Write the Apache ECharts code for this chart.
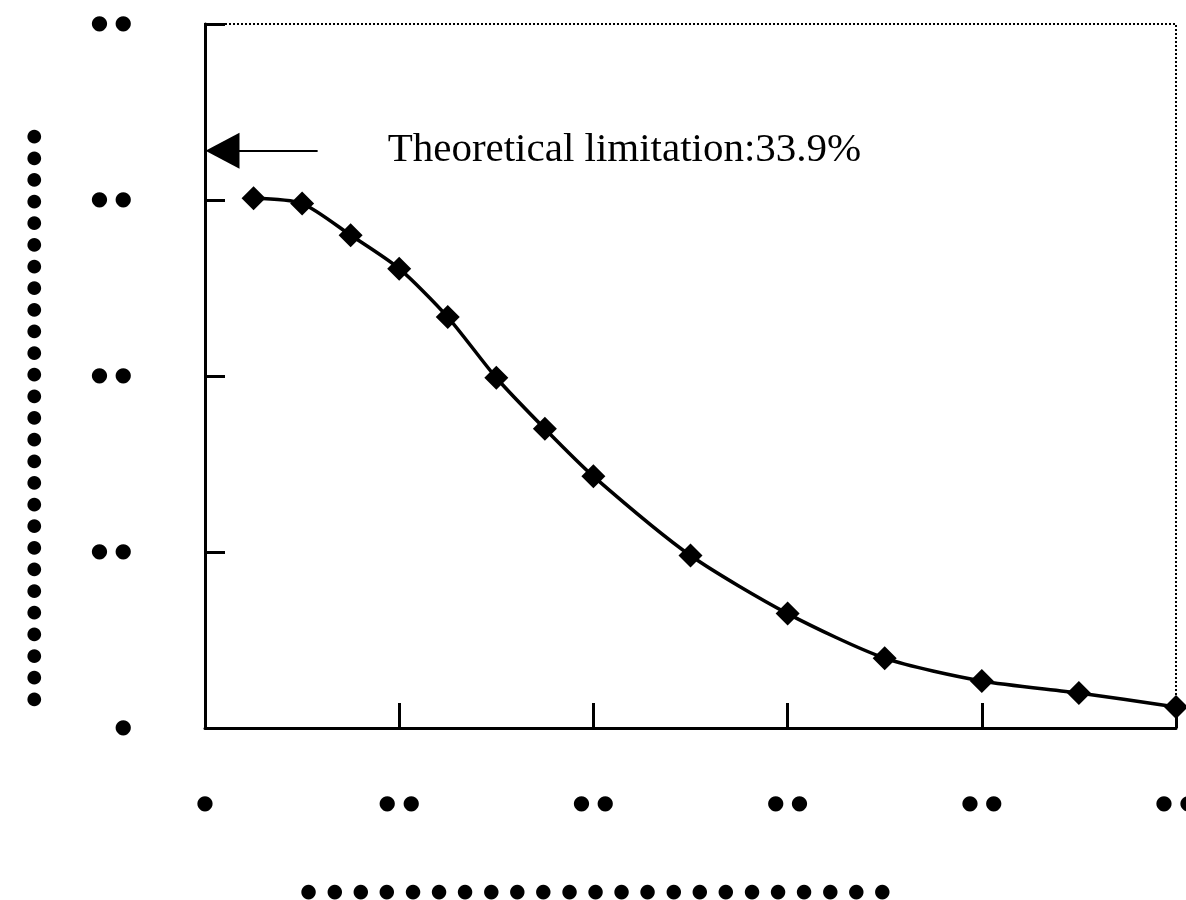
<!DOCTYPE html>
<html>
<head>
<meta charset="utf-8">
<script src="https://cdn.jsdelivr.net/npm/echarts@6/dist/echarts.min.js"></script>
<style>
  html, body { margin: 0; padding: 0; background: #fff; }
  #chart { width: 1186px; height: 900px; }
</style>
</head>
<body>
<div id="chart"></div>
<script>
// data (labels in the original print came out as dots)
const xValues = [2.5, 5, 7.5, 10, 12.5, 15, 17.5, 20, 25, 30, 35, 40, 45, 50];
const yValues = [30.1, 29.8, 28.0, 26.1, 23.35, 19.9, 17.0, 14.3, 9.8, 6.5, 3.97, 2.67, 1.99, 1.19];
const xTickValues = [0, 10, 20, 30, 40, 50];
const xTickLabels = ['●', '● ●', '● ●', '● ●', '● ●', '● ●'];
const yTickValues = [0, 10, 20, 30, 40];
const yTickLabels = ['●', '● ●', '● ●', '● ●', '● ●'];
const xAxisName = Array(23).fill('●').join('\u2002');
const yAxisName = Array(27).fill('●').join('\u2004');
const limitValue = 32.8;
const limitText = 'Theoretical limitation:33.9%';

const chart = echarts.init(document.getElementById('chart'));

const dotFont = {
  fontFamily: 'DejaVu Sans',
  fontSize: 20,
  color: '#000'
};

const option = {
  animation: false,
  backgroundColor: '#fff',
  grid: {
    left: 205,
    right: 10,
    top: 24,
    bottom: 172,
    outerBoundsMode: 'none',
    containLabel: false,
    show: true,
    borderColor: '#000',
    borderWidth: 2,
    borderType: 'dotted'
  },
  xAxis: {
    type: 'value',
    min: 0,
    max: 50,
    interval: 10,
    name: xAxisName,
    nameLocation: 'middle',
    nameGap: 155,
    nameTextStyle: {
      fontFamily: 'DejaVu Sans',
      fontSize: 19,
      color: '#000',
      padding: [0, 190, 0, 0]
    },
    axisLine: { lineStyle: { color: '#000', width: 3 } },
    axisTick: { inside: true, length: 25, lineStyle: { color: '#000', width: 3 } },
    splitLine: { show: false },
    axisLabel: Object.assign({
      margin: 66,
      formatter: function (v) {
        const i = xTickValues.indexOf(v);
        return i >= 0 ? xTickLabels[i] : '';
      }
    }, dotFont)
  },
  yAxis: {
    type: 'value',
    min: 0,
    max: 40,
    interval: 10,
    name: yAxisName,
    nameLocation: 'middle',
    nameRotate: 90,
    nameGap: 162,
    nameTextStyle: {
      fontFamily: 'DejaVu Sans',
      fontSize: 18,
      color: '#000',
      padding: [0, 84, 0, 0]
    },
    axisLine: { lineStyle: { color: '#000', width: 3 } },
    axisTick: { inside: true, length: 20, lineStyle: { color: '#000', width: 3 } },
    splitLine: { show: false },
    axisLabel: Object.assign({
      margin: 73,
      formatter: function (v) {
        const i = yTickValues.indexOf(v);
        return i >= 0 ? yTickLabels[i] : '';
      }
    }, dotFont)
  },
  series: [
    {
      type: 'line',
      data: xValues.map((x, i) => [x, yValues[i]]),
      smooth: 0.25,
      symbol: 'diamond',
      symbolSize: 24,
      itemStyle: { color: '#000' },
      lineStyle: { color: '#000', width: 3.5 },
      clip: false,
      markLine: {
        silent: true,
        animation: false,
        symbol: ['triangle', 'none'],
        symbolSize: [36, 34],
        lineStyle: { color: '#000', width: 2, type: 'solid' },
        label: {
          show: true,
          position: 'end',
          distance: 70,
          formatter: limitText,
          fontFamily: 'Liberation Serif',
          fontSize: 41,
          color: '#000'
        },
        data: [
          [
            { coord: [0.9, limitValue] },
            { coord: [5.8, limitValue] }
          ]
        ]
      }
    }
  ]
};

chart.setOption(option);
</script>
</body>
</html>
